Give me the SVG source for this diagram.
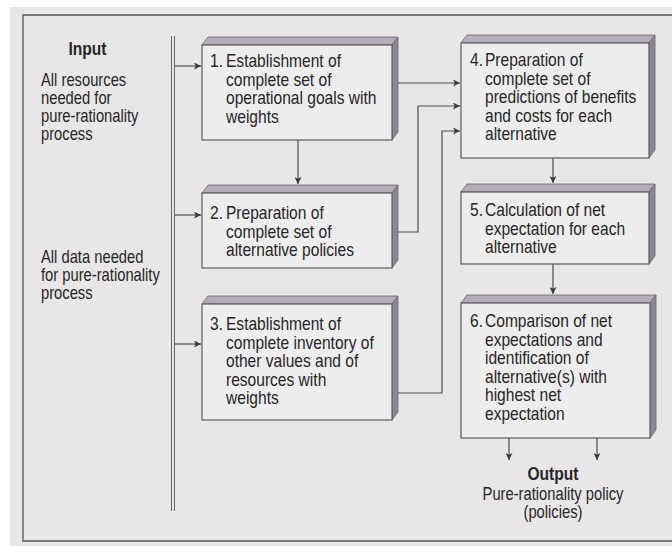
<svg xmlns="http://www.w3.org/2000/svg" width="672" height="546" viewBox="0 0 672 546">
  <style>
    .page { fill: #e8e6e7; }
    .frame { fill: none; stroke: #555; stroke-width: 1.3; }
    .face { fill: #eeedee; stroke: #5e5a60; stroke-width: 1.2; }
    .top { fill: #b3aeb7; stroke: #6a656e; stroke-width: 0.8; }
    .side { fill: #8b8691; stroke: #6a656e; stroke-width: 0.8; }
    .wire { fill: none; stroke: #4e4e4e; stroke-width: 1.2; }
    text { font-family: "Liberation Sans", Arial, sans-serif; font-size: 18px; fill: #262626; }
    .head { font-weight: bold; font-size: 19px; }
    .mid { text-anchor: middle; }
  </style>
  <defs>
    <marker id="arrow" viewBox="0 0 10 10" refX="10" refY="5" markerWidth="8" markerHeight="7" markerUnits="userSpaceOnUse" orient="auto">
      <path d="M0,0 L10,5 L0,10 L2.5,5 Z" fill="#3a3a3a"/>
    </marker>
  </defs>

  <!-- paper -->
  <rect x="0" y="0" width="672" height="546" fill="#ffffff"/>
  <rect class="page" x="10" y="7" width="662" height="539"/>
  <path class="frame" d="M672,15 H23 V541 H672"/>

  <!-- input column (narrow type: glyphs compressed horizontally) -->
  <g id="input">
    <text class="head mid" transform="translate(87.5,55) scale(0.82,1)">Input</text>
    <text transform="translate(41,86) scale(0.82,1)">All resources</text>
    <text transform="translate(41,104) scale(0.82,1)">needed for</text>
    <text transform="translate(41,122) scale(0.82,1)">pure-rationality</text>
    <text transform="translate(41,140) scale(0.82,1)">process</text>
    <text transform="translate(41,263) scale(0.82,1)">All data needed</text>
    <text transform="translate(41,281) scale(0.82,1)">for pure-rationality</text>
    <text transform="translate(41,299) scale(0.82,1)">process</text>
  </g>

  <!-- feed bar -->
  <g id="bar">
    <line x1="171.5" y1="36" x2="171.5" y2="511" stroke="#666" stroke-width="1"/>
    <line x1="174.5" y1="36" x2="174.5" y2="511" stroke="#666" stroke-width="1"/>
  </g>

  <g id="step1">
    <polygon class="top" points="202,45 208,37 398,37 392,45"/>
    <polygon class="side" points="392,45 398,37 398,132 392,140"/>
    <rect class="face" x="202" y="45" width="190" height="95"/>
    <text transform="translate(210,67) scale(0.865,1)">1.</text>
    <text transform="translate(226,67) scale(0.865,1)">Establishment of</text>
    <text transform="translate(226,85.5) scale(0.865,1)">complete set of</text>
    <text transform="translate(226,104) scale(0.865,1)">operational goals with</text>
    <text transform="translate(226,122.5) scale(0.865,1)">weights</text>
  </g>

  <g id="step2">
    <polygon class="top" points="202,193 208,185 398,185 392,193"/>
    <polygon class="side" points="392,193 398,185 398,260 392,268"/>
    <rect class="face" x="202" y="193" width="190" height="75"/>
    <text transform="translate(210,219) scale(0.865,1)">2.</text>
    <text transform="translate(226,219) scale(0.865,1)">Preparation of</text>
    <text transform="translate(226,237.5) scale(0.865,1)">complete set of</text>
    <text transform="translate(226,256) scale(0.865,1)">alternative policies</text>
  </g>

  <g id="step3">
    <polygon class="top" points="202,304 208,296 398,296 392,304"/>
    <polygon class="side" points="392,304 398,296 398,412 392,420"/>
    <rect class="face" x="202" y="304" width="190" height="116"/>
    <text transform="translate(210,330) scale(0.865,1)">3.</text>
    <text transform="translate(226,330) scale(0.865,1)">Establishment of</text>
    <text transform="translate(226,348.5) scale(0.865,1)">complete inventory of</text>
    <text transform="translate(226,367) scale(0.865,1)">other values and of</text>
    <text transform="translate(226,385.5) scale(0.865,1)">resources with</text>
    <text transform="translate(226,404) scale(0.865,1)">weights</text>
  </g>

  <g id="step4">
    <polygon class="top" points="461,43 467,35 655,35 649,43"/>
    <polygon class="side" points="649,43 655,35 655,150 649,158"/>
    <rect class="face" x="461" y="43" width="188" height="115"/>
    <text transform="translate(470,66) scale(0.865,1)">4.</text>
    <text transform="translate(485,66) scale(0.865,1)">Preparation of</text>
    <text transform="translate(485,84.5) scale(0.865,1)">complete set of</text>
    <text transform="translate(485,103) scale(0.865,1)">predictions of benefits</text>
    <text transform="translate(485,121.5) scale(0.865,1)">and costs for each</text>
    <text transform="translate(485,140) scale(0.865,1)">alternative</text>
  </g>

  <g id="step5">
    <polygon class="top" points="461,192 467,184 655,184 649,192"/>
    <polygon class="side" points="649,192 655,184 655,256 649,264"/>
    <rect class="face" x="461" y="192" width="188" height="72"/>
    <text transform="translate(470,216) scale(0.865,1)">5.</text>
    <text transform="translate(485,216) scale(0.865,1)">Calculation of net</text>
    <text transform="translate(485,234.5) scale(0.865,1)">expectation for each</text>
    <text transform="translate(485,253) scale(0.865,1)">alternative</text>
  </g>

  <g id="step6">
    <polygon class="top" points="461,303 467,295 656,295 650,303"/>
    <polygon class="side" points="650,303 656,295 656,430 650,438"/>
    <rect class="face" x="461" y="303" width="189" height="135"/>
    <text transform="translate(470,327) scale(0.865,1)">6.</text>
    <text transform="translate(485,327) scale(0.865,1)">Comparison of net</text>
    <text transform="translate(485,345.5) scale(0.865,1)">expectations and</text>
    <text transform="translate(485,364) scale(0.865,1)">identification of</text>
    <text transform="translate(485,382.5) scale(0.865,1)">alternative(s) with</text>
    <text transform="translate(485,401) scale(0.865,1)">highest net</text>
    <text transform="translate(485,419.5) scale(0.865,1)">expectation</text>
  </g>

  <g id="output">
    <text class="head mid" transform="translate(553,480) scale(0.82,1)">Output</text>
    <text class="mid" transform="translate(553,500) scale(0.82,1)">Pure-rationality policy</text>
    <text class="mid" transform="translate(553,518) scale(0.82,1)">(policies)</text>
  </g>

  <!-- connectors -->
  <g id="connectors" class="wire" marker-end="url(#arrow)">
    <path d="M175,66 H201"/>
    <path d="M175,215 H201"/>
    <path d="M175,344 H201"/>
    <path d="M298,140 V184"/>
    <path d="M398,83 H460"/>
    <path d="M398,232 H418 V106 H460"/>
    <path d="M398,393 H442 V131 H460"/>
    <path d="M553,158 V183"/>
    <path d="M553,264 V294"/>
    <path d="M509,438 V460"/>
    <path d="M597,438 V460"/>
  </g>
</svg>
